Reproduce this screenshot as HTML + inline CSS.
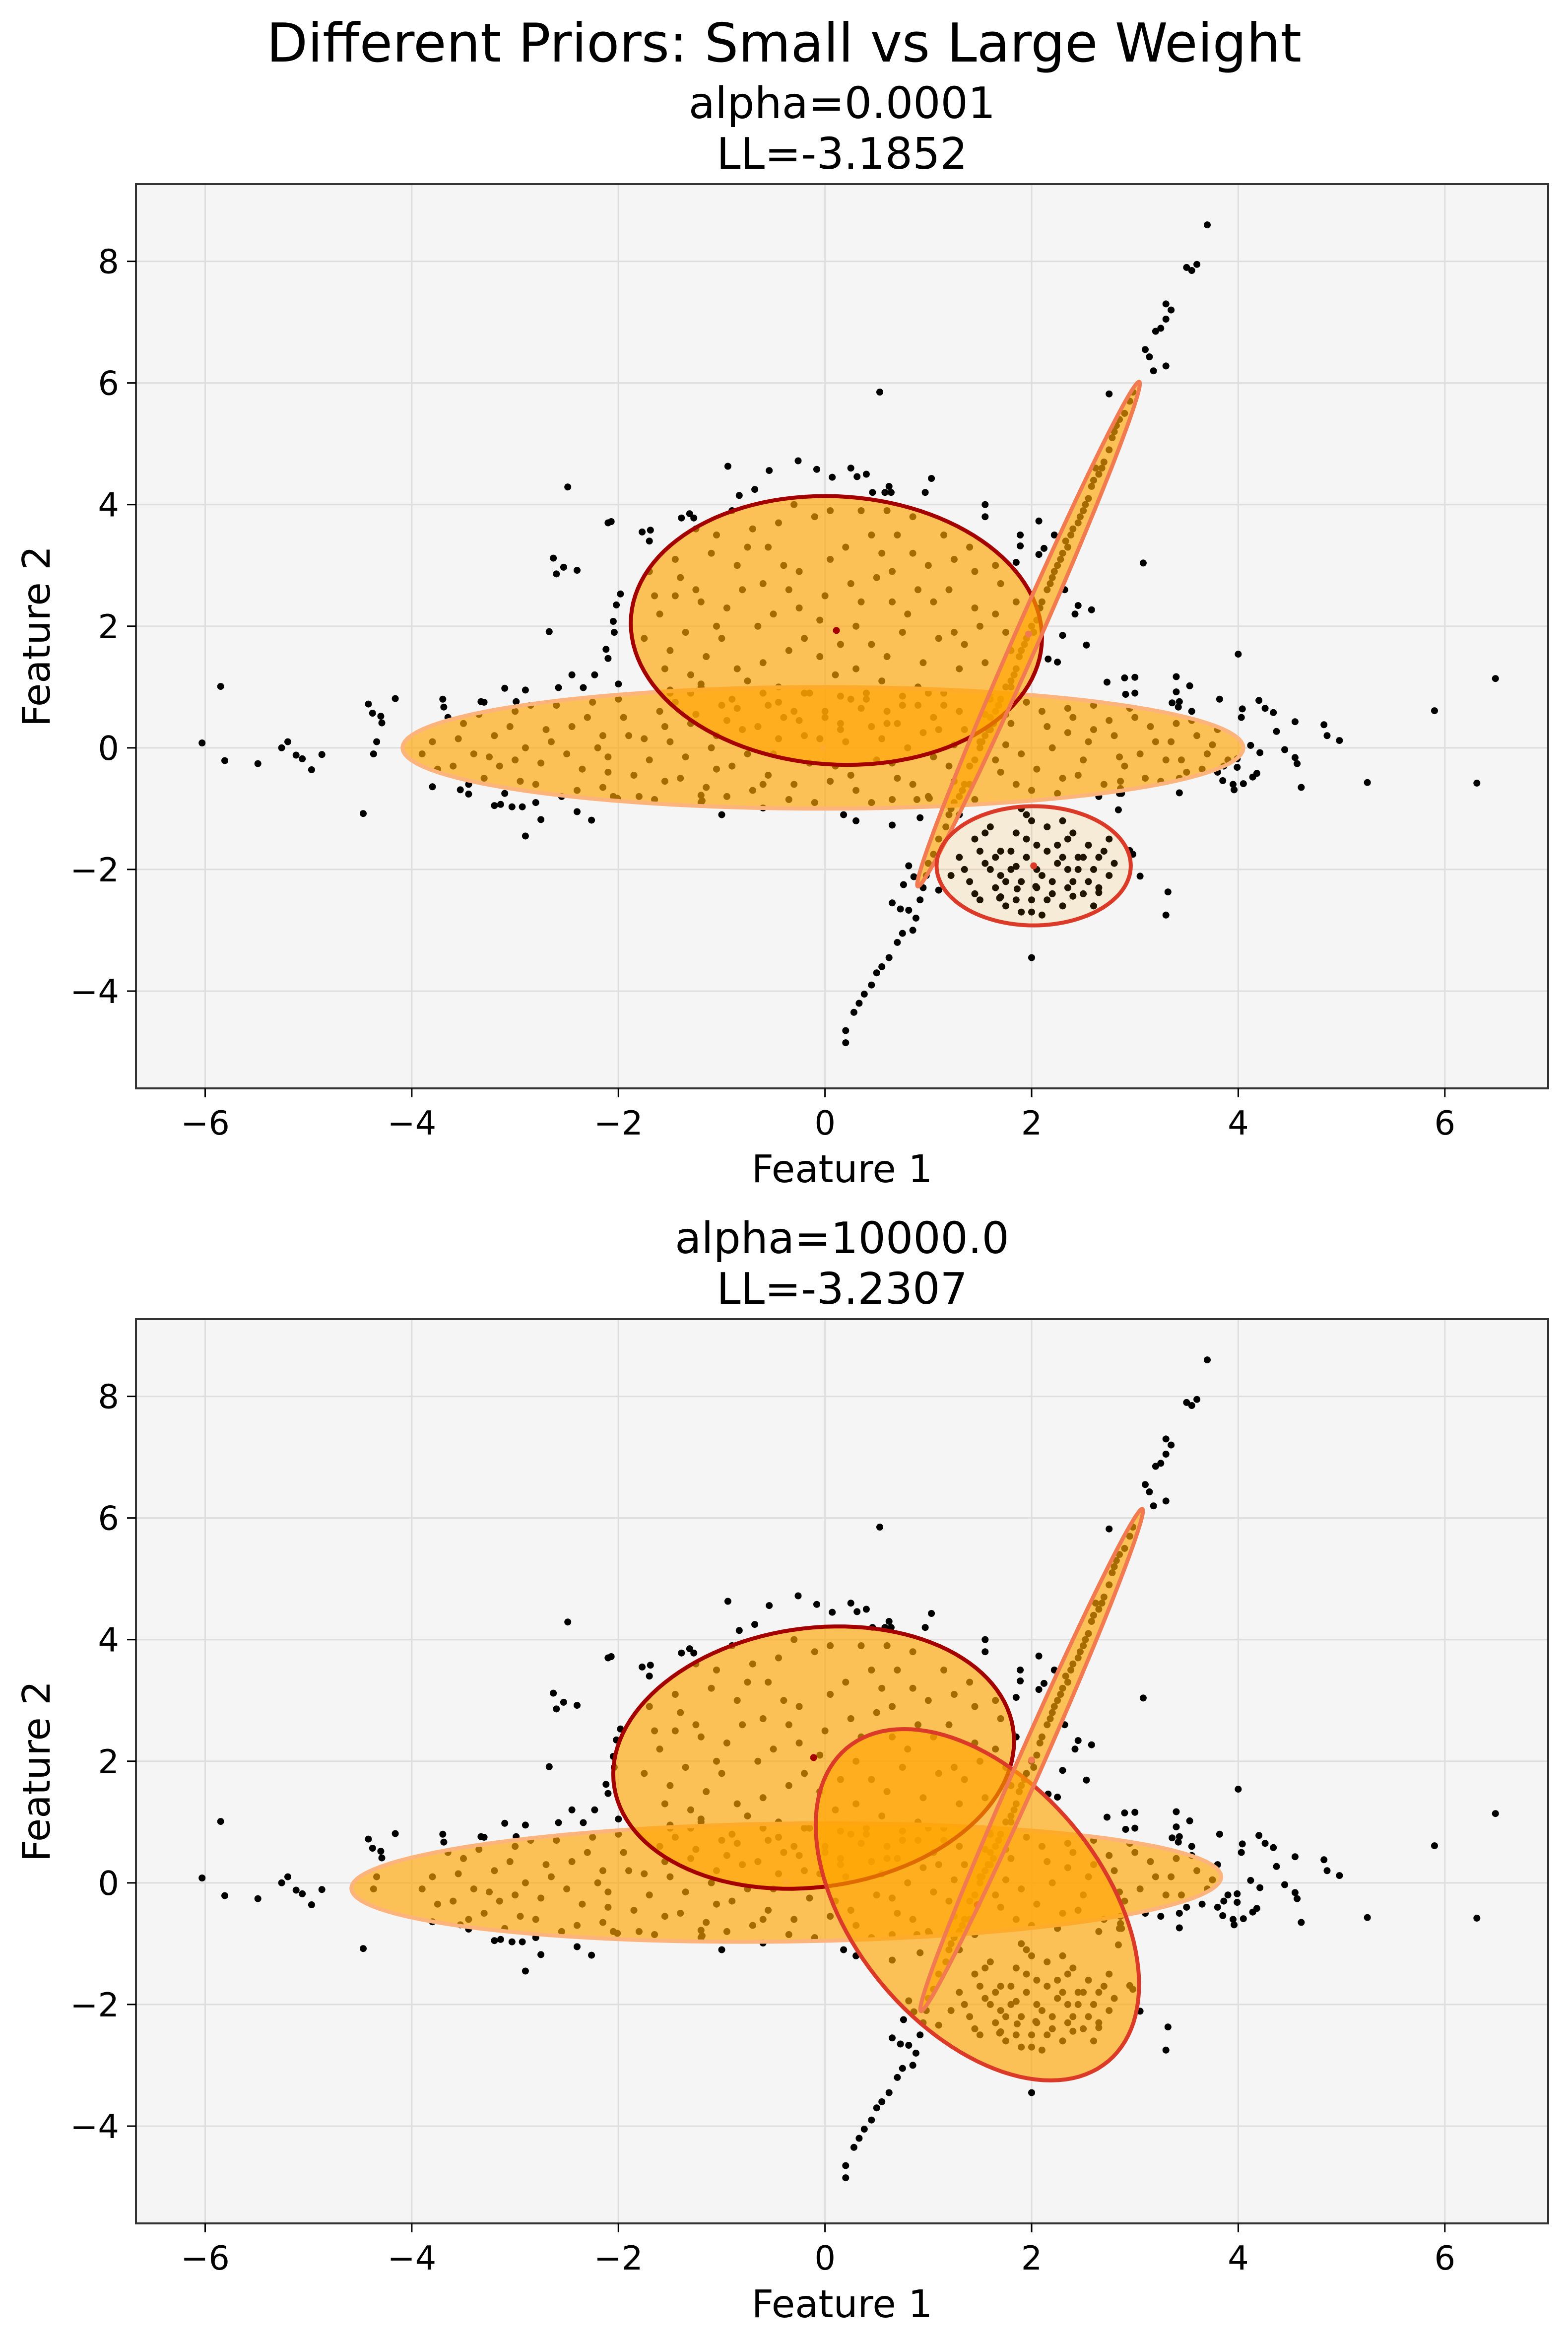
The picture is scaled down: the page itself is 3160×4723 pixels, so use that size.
<!DOCTYPE html>
<html><head><meta charset="utf-8"><style>
html,body{margin:0;padding:0;background:#fff;}
svg{display:block;font-family:"DejaVu Sans","Liberation Sans",sans-serif;}
</style></head><body>
<svg id="fig" width="3160" height="4723" viewBox="0 0 3160 4723" xmlns="http://www.w3.org/2000/svg">
<rect width="3160" height="4723" fill="#ffffff"/>
<text x="1580" y="124" font-size="108" text-anchor="middle">Different Priors: Small vs Large Weight</text>
</svg>
<script>
const xTicks = [-6, -4, -2, 0, 2, 4, 6];
const yTicks = [-4, -2, 0, 2, 4, 6, 8];
const xLim = [-6.67, 7.0];
const yLim = [-5.6, 9.27];
const panelTitles = ["alpha=0.0001", "alpha=10000.0"];
const panelLL = ["LL=-3.1852", "LL=-3.2307"];

const clusterA = [[-3.8,0.1],[-3.6,-0.3],[-3.5,0.4],[-3.3,-0.5],[-3.2,0.2],[-3.0,0.6],[-3.0,-0.2],[-2.8,-0.6],[-2.7,0.3],[-2.6,0.7],[-2.5,-0.1],[-2.4,-0.7],[-2.3,0.5],[-2.2,0.0],[-2.1,-0.4],[-2.0,0.8],[-1.9,0.2],[-1.8,-0.8],[-1.7,-0.2],[-1.6,0.6],[-1.5,0.1],[-1.4,-0.5],[-1.3,0.4],[-1.2,-0.9],[-1.1,0.0],[-1.0,0.7],[-0.9,-0.3],[-0.8,0.3],[-0.7,-0.7],[-0.6,0.9],[-0.5,-0.1],[-0.4,0.5],[-0.3,-0.6],[-0.2,0.2],[-0.1,-0.9],[0.0,0.6],[0.1,-0.3],[0.2,0.1],[0.3,-0.7],[0.4,0.8],[0.5,-0.2],[0.6,0.4],[0.7,-0.5],[0.8,0.0],[0.9,0.7],[1.0,-0.8],[1.1,0.3],[1.2,-0.3],[1.3,0.6],[1.4,-0.6],[1.5,0.1],[1.6,0.8],[1.7,-0.4],[1.8,0.4],[1.9,-0.1],[2.0,-0.7],[2.1,0.6],[2.2,0.0],[2.3,-0.5],[2.4,0.5],[2.5,-0.2],[2.6,0.7],[2.7,-0.6],[2.8,0.2],[2.9,-0.3],[3.0,0.5],[3.1,-0.5],[3.2,0.1],[3.3,-0.2],[3.4,0.4],[3.5,-0.4],[3.6,0.2],[3.7,-0.1],[3.8,0.3],[-3.9,-0.1],[-3.4,-0.1],[-2.9,0.0],[-1.55,-0.55],[-0.45,0.15],[0.45,0.35],[1.25,0.05],[2.35,0.25],[-0.95,0.45],[0.15,0.85],[1.75,0.55],[-2.15,-0.65],[-1.05,-0.35],[0.65,-0.85],[2.85,-0.75],[-3.1,-0.75],[-3.2,-0.95],[-2.8,-0.9],[-2.4,-1.05],[-1.0,-1.1],[0.3,-1.2],[1.3,-1.1],[1.9,-1.0],[-2.0,1.05],[-1.2,1.05],[-3.7,0.8],[-3.3,0.75],[-2.9,0.95],[-1.5,0.95]];
const clusterA2 = [[-3.75,-0.35],[-3.55,0.15],[-3.45,-0.6],[-3.35,0.55],[-3.15,-0.3],[-3.05,0.35],[-2.95,-0.55],[-2.85,0.7],[-2.75,-0.25],[-2.65,0.1],[-2.55,-0.8],[-2.45,0.35],[-2.35,-0.35],[-2.25,0.75],[-2.15,0.2],[-2.05,-0.8],[-1.95,0.5],[-1.85,-0.45],[-1.75,0.15],[-1.65,-0.85],[-1.55,0.35],[-1.45,0.75],[-1.35,-0.15],[-1.25,0.55],[-1.15,-0.65],[-1.05,0.2],[-0.95,-0.8],[-0.85,0.65],[-0.75,-0.1],[-0.65,0.35],[-0.55,-0.45],[-0.45,0.75],[-0.35,-0.85],[-0.25,0.45],[-0.15,-0.25],[-0.05,0.15],[0.05,-0.55],[0.15,0.4],[0.25,-0.45],[0.35,0.65],[0.45,-0.9],[0.55,0.15],[0.65,-0.25],[0.75,0.85],[0.85,-0.6],[0.95,0.25],[1.05,-0.15],[1.15,0.7],[1.25,-0.55],[1.35,0.3],[1.45,-0.85],[1.55,0.55],[1.65,-0.2],[1.75,0.05],[1.85,-0.6],[1.95,0.75],[2.05,-0.35],[2.15,0.35],[2.25,-0.75],[2.35,0.65],[2.45,-0.45],[2.55,0.1],[2.65,-0.8],[2.75,0.45],[2.85,-0.15],[2.95,0.65],[3.05,-0.1],[3.15,0.35],[3.25,-0.55],[3.35,0.1],[3.45,-0.2],[3.55,0.45],[3.65,-0.35],[3.75,0.05],[3.9,-0.2],[-3.65,0.5],[-3.25,-0.15],[-2.1,-0.15],[-0.6,-0.6],[0.6,0.6],[1.6,0.3],[2.6,0.3],[-1.3,0.9],[-0.2,0.9],[1.0,0.9]];
const clusterB = [[-1.6,2.2],[-1.5,1.6],[-1.4,2.8],[-1.3,1.2],[-1.2,2.4],[-1.1,3.2],[-1.0,1.8],[-0.9,0.8],[-0.8,2.6],[-0.7,3.6],[-0.6,1.4],[-0.5,2.2],[-0.4,3.0],[-0.3,0.6],[-0.2,1.8],[-0.1,3.8],[0.0,2.5],[0.1,1.2],[0.2,3.3],[0.3,2.0],[0.4,0.9],[0.5,2.8],[0.6,1.5],[0.7,3.5],[0.8,2.2],[0.9,1.0],[1.0,3.0],[1.1,1.8],[1.2,2.6],[1.3,1.3],[1.4,3.3],[1.5,2.0],[1.6,0.9],[1.7,2.7],[1.8,1.6],[-1.7,2.9],[-1.25,3.6],[-0.75,1.1],[-0.35,2.6],[0.15,0.3],[0.35,3.9],[0.65,2.4],[1.05,0.5],[1.45,2.9],[-0.05,1.5],[-0.55,3.3],[0.45,1.7],[0.85,3.8],[-1.05,2.0],[1.25,1.9],[-0.25,2.3],[0.25,2.7],[0.75,0.7],[-0.85,3.0],[-1.45,2.5],[1.65,2.2],[0.05,3.1],[-0.45,1.0],[0.55,3.2],[1.15,3.5]];
const clusterB2 = [[-1.75,1.8],[-1.65,2.5],[-1.55,1.3],[-1.45,3.1],[-1.35,1.9],[-1.25,2.6],[-1.15,1.5],[-1.05,3.5],[-0.95,2.3],[-0.85,1.3],[-0.75,3.3],[-0.65,2.0],[-0.55,0.7],[-0.45,3.7],[-0.35,1.6],[-0.25,2.9],[-0.15,0.9],[-0.05,2.1],[0.05,3.9],[0.15,1.7],[0.25,0.8],[0.35,2.4],[0.45,3.5],[0.55,1.1],[0.65,2.9],[0.75,1.9],[0.85,3.2],[0.95,1.4],[1.05,2.4],[1.15,0.9],[1.25,3.1],[1.35,1.7],[1.45,2.3],[1.55,1.4],[1.65,3.0],[1.75,1.9],[1.85,2.4],[-0.9,3.9],[-0.3,4.0],[0.6,3.9],[-1.5,0.9],[1.8,1.0],[-0.6,2.7],[0.3,1.3],[0.9,2.6],[-1.2,1.0],[0.0,0.5],[0.7,0.4]];
const clusterC = [[1.0,-1.9],[1.1,-1.5],[1.2,-1.1],[1.25,-0.9],[1.35,-0.6],[1.4,-0.3],[1.5,0.0],[1.55,0.2],[1.6,0.5],[1.7,0.8],[1.75,1.0],[1.85,1.3],[1.9,1.6],[2.0,2.0],[2.05,2.1],[2.1,2.4],[2.2,2.8],[2.25,3.0],[2.35,3.3],[2.4,3.6],[2.5,3.9],[2.55,4.1],[2.6,4.4],[2.7,4.7],[2.75,4.9],[2.8,5.2],[2.85,5.4],[2.95,5.7],[1.65,0.6],[1.95,1.8],[2.3,3.2],[2.65,4.5],[1.3,-0.8],[2.15,2.6],[2.45,3.7],[3.7,8.6],[3.6,7.95],[3.55,7.85],[3.5,7.9],[3.3,7.3],[3.35,7.2],[3.3,7.05],[3.25,6.9],[3.2,6.85],[3.1,6.55],[0.2,-4.85],[0.2,-4.65],[0.28,-4.35],[0.33,-4.2],[0.38,-4.05],[0.45,-3.9],[0.5,-3.7],[0.55,-3.6],[0.62,-3.45],[0.7,-3.2],[0.75,-3.05],[0.85,-3.0],[0.88,-2.8],[0.92,-2.5],[0.95,-2.3]];
const clusterC2 = [[0.98,-2.1],[1.05,-1.75],[1.17,-1.3],[1.22,-1.0],[1.33,-0.7],[1.45,-0.2],[1.52,0.1],[1.63,0.4],[1.68,0.7],[1.8,1.1],[1.83,1.2],[1.93,1.7],[2.02,1.9],[2.08,2.3],[2.18,2.7],[2.28,3.1],[2.38,3.5],[2.47,3.8],[2.58,4.3],[2.68,4.6],[2.78,5.1],[2.9,5.5],[2.98,5.85],[1.58,0.3],[1.88,1.5],[2.22,2.9],[2.52,4.0],[2.82,5.3],[2.62,4.6],[2.33,3.4]];
const clusterD = [[1.3,-1.8],[1.4,-2.2],[1.45,-1.5],[1.5,-2.5],[1.55,-1.9],[1.6,-1.3],[1.65,-2.3],[1.7,-1.7],[1.75,-2.6],[1.8,-2.0],[1.85,-1.4],[1.9,-2.2],[1.95,-1.8],[2.0,-2.5],[2.05,-1.6],[2.1,-2.1],[2.15,-1.3],[2.2,-2.4],[2.25,-1.9],[2.3,-2.6],[2.35,-1.5],[2.4,-2.2],[2.45,-1.8],[2.5,-2.4],[2.55,-1.6],[2.6,-2.0],[2.65,-2.3],[2.7,-1.7],[2.75,-2.1],[2.8,-1.9],[1.9,-2.7],[2.1,-2.75],[1.6,-2.0],[2.0,-1.2],[2.3,-1.2],[1.7,-2.45],[2.2,-2.2],[1.85,-1.95],[2.05,-2.3],[2.4,-1.4],[1.5,-1.7],[2.6,-2.6],[1.95,-1.1],[2.15,-1.7],[2.35,-2.0]];
const clusterD2 = [[1.35,-2.0],[1.45,-2.4],[1.55,-1.4],[1.65,-1.8],[1.75,-2.2],[1.85,-2.5],[1.95,-1.5],[2.05,-2.0],[2.15,-2.5],[2.25,-1.6],[2.35,-2.3],[2.45,-2.0],[2.55,-2.2],[2.65,-1.8],[2.75,-1.5],[1.8,-1.7],[2.0,-2.7],[2.3,-1.8],[2.5,-1.8],[1.7,-2.1]];
const outliers = [[-5.85,1.01],[-6.03,0.08],[-5.81,-0.21],[-5.49,-0.26],[-5.26,0.0],[-5.2,0.1],[-5.12,-0.12],[-5.06,-0.18],[-4.97,-0.36],[-4.87,-0.11],[-4.47,-1.08],[-4.42,0.72],[-4.38,0.57],[-4.3,0.52],[-4.29,0.41],[-4.16,0.81],[-4.34,0.1],[-4.37,-0.1],[-2.49,4.29],[-2.1,3.7],[-2.63,3.12],[-2.53,2.97],[-2.6,2.86],[-2.4,2.92],[-2.67,1.91],[-2.04,1.9],[-2.1,1.47],[-2.45,1.2],[-2.23,1.2],[-2.34,0.99],[-3.1,0.98],[-2.58,0.99],[-3.33,0.76],[-2.99,0.76],[-3.69,0.67],[-3.14,-0.93],[-3.03,-0.97],[-2.93,-0.97],[-2.75,-1.18],[-2.26,-1.19],[-2.9,-1.45],[-3.8,-0.64],[-3.53,-0.69],[-3.45,-0.76],[4.0,1.54],[6.49,1.14],[5.9,0.61],[6.31,-0.58],[5.25,-0.57],[4.83,0.38],[4.86,0.2],[4.98,0.12],[4.55,0.43],[4.37,0.27],[4.2,0.78],[4.26,0.65],[4.34,0.58],[4.04,0.64],[4.03,0.5],[3.82,0.8],[3.4,0.92],[3.0,0.9],[2.91,0.88],[3.43,0.76],[3.36,0.74],[3.42,0.67],[3.55,0.6],[4.12,0.04],[4.21,-0.08],[4.45,-0.03],[4.55,-0.16],[4.57,-0.26],[3.99,-0.18],[3.86,-0.3],[3.99,-0.32],[3.8,-0.4],[3.85,-0.54],[4.18,-0.42],[4.14,-0.48],[3.95,-0.6],[3.96,-0.69],[4.05,-0.59],[4.61,-0.65],[2.87,-0.75],[3.43,-0.74],[0.53,5.85],[-0.94,4.63],[-0.26,4.72],[-0.54,4.56],[-0.08,4.58],[0.07,4.45],[0.25,4.6],[0.31,4.46],[0.4,4.5],[1.03,4.43],[0.97,4.2],[0.46,4.2],[0.62,4.3],[0.58,4.2],[0.64,4.2],[-0.68,4.25],[-0.83,4.15],[-1.31,3.85],[-1.39,3.78],[-1.27,3.78],[-1.77,3.55],[-1.69,3.58],[-1.7,3.4],[-2.07,3.72],[1.55,4.0],[1.55,3.8],[1.89,3.5],[1.89,3.32],[2.07,3.73],[2.12,3.28],[2.07,3.18],[1.85,3.05],[3.08,3.04],[2.22,3.5],[2.75,5.82],[3.3,6.28],[3.14,6.43],[3.18,6.2],[2.32,2.6],[2.45,2.34],[2.58,2.27],[2.42,2.2],[2.3,1.85],[2.53,1.69],[2.16,1.46],[2.25,1.41],[2.9,1.15],[3.0,1.16],[2.73,1.08],[3.4,1.17],[3.53,1.02],[3.43,-0.5],[3.32,-2.37],[3.05,-2.11],[2.98,-1.75],[2.95,-1.69],[2.84,-1.02],[2.86,-0.55],[2.86,-0.67],[2.65,-2.38],[2.4,-2.44],[1.69,-2.47],[1.1,-2.34],[1.22,-2.1],[1.86,-2.32],[2.04,-2.28],[2.0,-3.45],[3.3,-2.75],[0.65,-1.27],[0.18,-1.1],[0.89,-0.85],[1.01,-0.83],[0.92,-1.15],[0.81,-1.94],[0.86,-2.12],[0.76,-2.25],[0.65,-2.55],[0.73,-2.65],[0.81,-2.67],[-0.6,-0.99],[-1.2,-0.78],[-1.19,-0.87],[-2.01,-0.83],[-2.12,1.62],[-1.98,2.53],[-2.02,2.35],[-2.05,2.08]];

// ellipses: center, conjugate semi-axis vectors u (to rightmost point) and v (vertical), data units
const ellipseCenters = [
  [[-0.02,0.0],[0.11,1.93],[1.97,1.87],[2.02,-1.94]],
  [[-0.375,0.005],[-0.11,2.06],[2.0,2.02],[1.475,-0.36]]
];
const ellipseU = [
  [[4.07,0.0],[1.99,-0.12],[1.07,4.15],[0.94,0.0]],
  [[4.21,0.095],[1.94,0.27],[1.07,4.13],[1.565,-1.31]]
];
const ellipseV = [
  [[0.0,1.0],[0.0,2.207],[0.13,0.0],[0.0,0.98]],
  [[0.0,0.97],[0.0,2.14],[0.13,0.0],[0.0,2.575]]
];
const ellipseFillOpacity = [[0.65,0.65,0.65,0.12],[0.65,0.65,0.65,0.65]];
const ellipseEdge = [["#fdb47c","#a40000","#f27a50","#dc3a28"],["#fdb47c","#a40000","#f27a50","#dc3a28"]];
const ellipseOrder = [[0,1,2,3],[0,1,3,2]];

const NS = "http://www.w3.org/2000/svg";
const svg = document.getElementById("fig");
const AX_L = 274, AX_R = 3120, AX_H = 1822;
const panelTops = [371, 2658];
function mk(tag, attrs, parent){ const e=document.createElementNS(NS,tag); for(const k in attrs) e.setAttribute(k,attrs[k]); (parent||svg).appendChild(e); return e; }
function fmt(v){ return v<0 ? "\u2212"+Math.abs(v) : String(v); }

const allPoints = outliers.concat(clusterA, clusterA2, clusterB, clusterB2, clusterC, clusterC2, clusterD, clusterD2);

panelTops.forEach(function(top, p){
  const sx = x => AX_L + (x - xLim[0]) / (xLim[1]-xLim[0]) * (AX_R-AX_L);
  const sy = y => top + (yLim[1] - y) / (yLim[1]-yLim[0]) * AX_H;
  const bottom = top + AX_H;
  const g = mk("g", {});
  
  
  const bg = mk("rect", {x:AX_L, y:top, width:AX_R-AX_L, height:AX_H, fill:"#f5f5f5"}, g);
  
  
  xTicks.forEach(function(t){
    const l = mk("line", {x1:sx(t), x2:sx(t), y1:top, y2:bottom, stroke:"#dedede", "stroke-width":3}, g);
    
    
  });
  yTicks.forEach(function(t){
    const l = mk("line", {x1:AX_L, x2:AX_R, y1:sy(t), y2:sy(t), stroke:"#dedede", "stroke-width":3}, g);
    
    
  });
  const pg = mk("g", {fill:"#000"}, g);
  
  
  allPoints.forEach(function(pt){
    const c = mk("circle", {cx:sx(pt[0]).toFixed(1), cy:sy(pt[1]).toFixed(1), r:7}, pg);
    
    
  });
  ellipseOrder[p].forEach(function(k){
    const c = ellipseCenters[p][k], u = ellipseU[p][k], v = ellipseV[p][k];
    let d = "";
    for(let i=0;i<=120;i++){
      const t = i/120*2*Math.PI;
      const x = c[0] + u[0]*Math.cos(t) + v[0]*Math.sin(t);
      const y = c[1] + u[1]*Math.cos(t) + v[1]*Math.sin(t);
      d += (i===0?"M":"L") + sx(x).toFixed(1) + "," + sy(y).toFixed(1);
    }
    const e = mk("path", {d:d+"Z", fill:"#ffa500", "fill-opacity":ellipseFillOpacity[p][k], stroke:ellipseEdge[p][k], "stroke-width":8, "stroke-linejoin":"round"}, g);
    
    
    const m = mk("circle", {cx:sx(c[0]), cy:sy(c[1]), r:7, fill:ellipseEdge[p][k]}, g);
    
    
  });
  const sp = mk("rect", {x:AX_L, y:top, width:AX_R-AX_L, height:AX_H, fill:"none", stroke:"#333", "stroke-width":4}, g);
  
  
  xTicks.forEach(function(t){
    mk("line", {x1:sx(t), x2:sx(t), y1:bottom, y2:bottom+18, stroke:"#000", "stroke-width":3}, g);
    const tx = mk("text", {x:sx(t), y:bottom+93, "font-size":67, "text-anchor":"middle"}, g);
    tx.textContent = fmt(t);
    
    
  });
  yTicks.forEach(function(t){
    mk("line", {x1:AX_L-18, x2:AX_L, y1:sy(t), y2:sy(t), stroke:"#000", "stroke-width":3}, g);
    const ty = mk("text", {x:AX_L-34, y:sy(t)+24, "font-size":67, "text-anchor":"end"}, g);
    ty.textContent = fmt(t);
    
    
  });
  const xl = mk("text", {x:(AX_L+AX_R)/2, y:bottom+189, "font-size":77, "text-anchor":"middle"}, g);
  xl.textContent = "Feature 1";
  
  
  const yc = top + AX_H/2;
  const yl = mk("text", {x:100, y:yc, "font-size":77, "text-anchor":"middle", transform:"rotate(-90 100 "+yc+")"}, g);
  yl.textContent = "Feature 2";
  
  
  const t1 = mk("text", {x:(AX_L+AX_R)/2, y:top-133, "font-size":87, "text-anchor":"middle"}, g);
  t1.textContent = panelTitles[p];
  
  
  const t2 = mk("text", {x:(AX_L+AX_R)/2, y:top-31, "font-size":87, "text-anchor":"middle"}, g);
  t2.textContent = panelLL[p];
  
  
});
</script>
</body></html>
